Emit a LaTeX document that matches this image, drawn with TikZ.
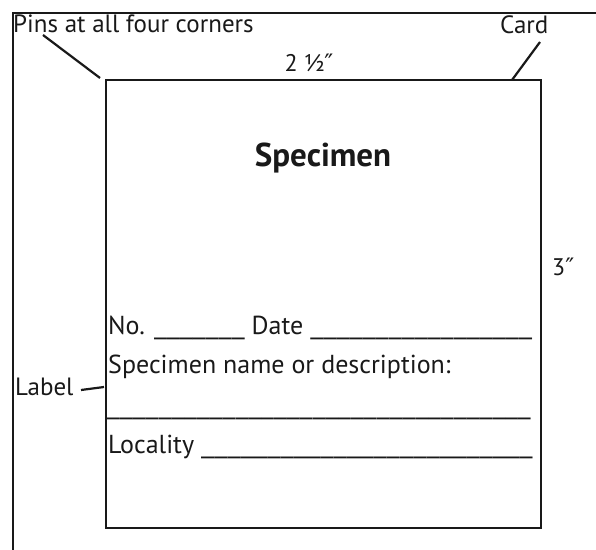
\documentclass[tikz,border=0pt]{standalone}
\usepackage{fontspec}
\setmainfont{PT Sans}
\newfontfamily\symfont{DejaVu Sans}
\newcommand\ulrun[2][1.25]{\scalebox{#1}[1]{#2}}
\begin{document}
\begin{tikzpicture}[x=1bp,y=-1bp,
  every node/.style={text=black!90},
  lbl/.style={inner sep=0pt, font=\fontsize{25bp}{29bp}\selectfont},
  field/.style={inner sep=0pt, anchor=base west, font=\fontsize{26bp}{30bp}\selectfont},
  ln/.style={line width=2.2bp, black!90},
  cardbox/.style={draw=black!90, line width=2.8bp, minimum width=435bp, minimum height=448bp, inner sep=0pt}]
\useasboundingbox (0,0) rectangle (596,550);
% outer frame
\draw[line width=2.2bp, black!90] (13,552) -- (13,13) -- (600,13);
% card
\node[cardbox] (card) at (323.5,304) {};
% texts
\node[lbl, anchor=base west] (pins) at (13,33) {Pins at all four corners};
\node[lbl, anchor=base west] (cardlbl) at (500,34) {Card};
\node[lbl, anchor=base, font=\fontsize{24bp}{28bp}\selectfont] (width) at (309,72) {2 ½{\symfont ″}};
\node[inner sep=0pt, anchor=base, font=\fontsize{33bp}{38bp}\selectfont\bfseries] (title) at (323,167) {Specimen};
\node[lbl, anchor=base west, font=\fontsize{24bp}{28bp}\selectfont] (height) at (552,275) {3{\symfont ″}};
\node[field] (no) at (108,334) {No. \ulrun[1.22]{\_\_\_\_\_\_\_} Date \ulrun[1.23]{\_\_\_\_\_\_\_\_\_\_\_\_\_\_\_\_\_}};
\node[field] (name) at (108,373) {Specimen name or description:};
\node[field] (blank) at (107,414) {\ulrun[1.21]{\_\_\_\_\_\_\_\_\_\_\_\_\_\_\_\_\_\_\_\_\_\_\_\_\_\_\_\_\_\_\_\_\_}};
\node[field] (loc) at (108,453) {Locality \ulrun{\_\_\_\_\_\_\_\_\_\_\_\_\_\_\_\_\_\_\_\_\_\_\_\_\_}};
\node[field, font=\fontsize{25bp}{30bp}\selectfont] (label) at (15,395) {Label};
% connectors
\coordinate (pinsfoot) at (43,35);
\coordinate (pinsend) at (100,78);
\coordinate (cardfoot) at (540,42);
\coordinate (cardtop) at (512,80);
\coordinate (labelstart) at (81,390);
\coordinate (labelend) at (104,387);
\draw[ln] (pinsfoot) -- (pinsend);
\draw[ln] (cardfoot) -- (cardtop);
\draw[ln] (labelstart) -- (labelend);
\end{tikzpicture}
\end{document}
